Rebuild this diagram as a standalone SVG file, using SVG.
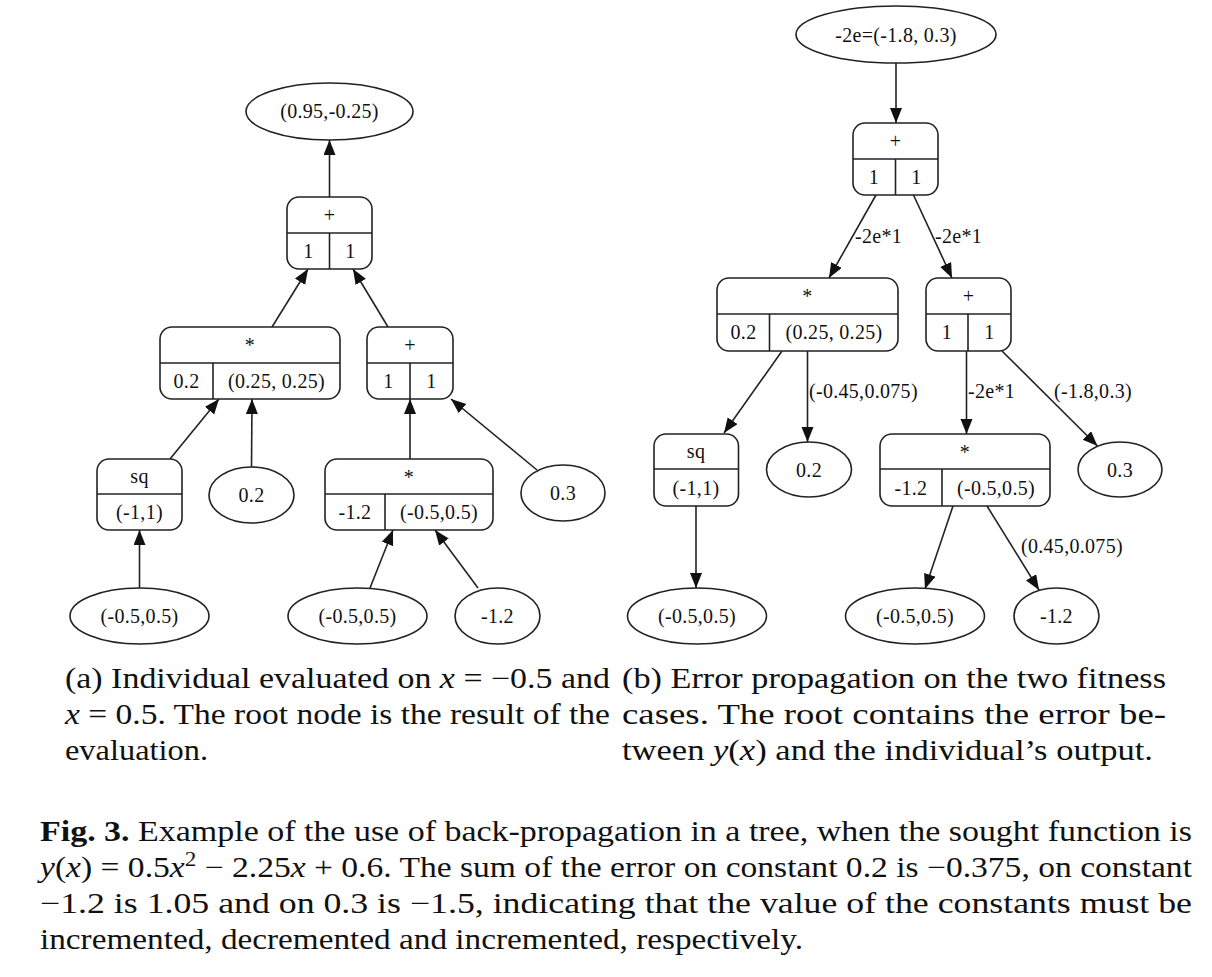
<svg xmlns="http://www.w3.org/2000/svg" width="1212" height="977" viewBox="0 0 1212 977">
<defs>
<marker id="ah" markerUnits="userSpaceOnUse" markerWidth="16" markerHeight="13" refX="15" refY="6" orient="auto">
<path d="M0,0 L15,6 L0,12 z" fill="#111"/>
</marker>
<style>
.n{fill:#fff;stroke:#222;stroke-width:1.6}
.d{stroke:#222;stroke-width:1.6;fill:none}
.t{font-family:"Liberation Serif","Times New Roman",serif;font-size:20px;letter-spacing:0.3px;fill:#111;text-anchor:middle}
.lb{font-family:"Liberation Serif","Times New Roman",serif;font-size:20px;letter-spacing:0.3px;fill:#111}
.e{stroke:#222;stroke-width:1.6;fill:none;marker-end:url(#ah)}
.c{font-family:"Liberation Serif","Times New Roman",serif;font-size:29px;fill:#111}
.i{font-style:italic}
.b{font-weight:bold}
</style>
</defs>
<rect width="1212" height="977" fill="#fff"/>

<g id="connectors">
<line class="e" x1="329.5" y1="197" x2="329.5" y2="140"/>
<line class="e" x1="272" y1="327" x2="308" y2="269"/>
<line class="e" x1="388" y1="327" x2="353" y2="269"/>
<line class="e" x1="170" y1="459" x2="219" y2="399"/>
<line class="e" x1="251.5" y1="467" x2="252" y2="399"/>
<line class="e" x1="410" y1="459" x2="410" y2="399"/>
<line class="e" x1="537" y1="470" x2="451" y2="399"/>
<line class="e" x1="139.5" y1="588" x2="139.5" y2="530"/>
<line class="e" x1="370" y1="588" x2="393" y2="530"/>
<line class="e" x1="478" y1="588" x2="435" y2="530"/>
<line class="e" x1="896" y1="63" x2="896" y2="123"/>
<line class="e" x1="876" y1="195" x2="829" y2="278"/>
<line class="e" x1="913.5" y1="195" x2="952" y2="278"/>
<line class="e" x1="782" y1="351" x2="724" y2="433"/>
<line class="e" x1="807.5" y1="351" x2="807.5" y2="442"/>
<line class="e" x1="966.5" y1="351" x2="966.5" y2="434"/>
<line class="e" x1="1002" y1="351" x2="1097.5" y2="446"/>
<line class="e" x1="696" y1="506" x2="696" y2="588"/>
<line class="e" x1="953" y1="506" x2="925" y2="589"/>
<line class="e" x1="987" y1="506" x2="1039" y2="590"/>
<text class="lb" x="855" y="243">-2e*1</text>
<text class="lb" x="935" y="243">-2e*1</text>
<text class="lb" x="809" y="398">(-0.45,0.075)</text>
<text class="lb" x="968" y="398">-2e*1</text>
<text class="lb" x="1054" y="398">(-1.8,0.3)</text>
<text class="lb" x="1021" y="553">(0.45,0.075)</text>
</g>

<g id="L_root"><ellipse class="n" cx="329.5" cy="111.5" rx="83.5" ry="28.5"/><text class="t" x="329.5" y="118">(0.95,-0.25)</text></g>
<g id="L_plus1"><rect class="n" x="287" y="197" width="85" height="72" rx="12"/><line class="d" x1="287" y1="233" x2="372" y2="233"/><line class="d" x1="329.5" y1="233" x2="329.5" y2="269"/><text class="t" x="329.5" y="221.5">+</text><text class="t" x="308.5" y="258">1</text><text class="t" x="350.5" y="258">1</text></g>
<g id="L_mul1"><rect class="n" x="160" y="327" width="180" height="72" rx="12"/><line class="d" x1="160" y1="363" x2="340" y2="363"/><line class="d" x1="213" y1="363" x2="213" y2="399"/><text class="t" x="250" y="352">*</text><text class="t" x="186.5" y="388">0.2</text><text class="t" x="276.5" y="388">(0.25, 0.25)</text></g>
<g id="L_plus2"><rect class="n" x="367" y="327" width="86" height="72" rx="12"/><line class="d" x1="367" y1="363" x2="453" y2="363"/><line class="d" x1="410" y1="363" x2="410" y2="399"/><text class="t" x="410" y="351.5">+</text><text class="t" x="388.5" y="388">1</text><text class="t" x="431.5" y="388">1</text></g>
<g id="L_sq"><rect class="n" x="97" y="459" width="85" height="71" rx="12"/><line class="d" x1="97" y1="494" x2="182" y2="494"/><text class="t" x="139.5" y="483">sq</text><text class="t" x="139.5" y="519">(-1,1)</text></g>
<g id="L_c02"><ellipse class="n" cx="251.5" cy="495" rx="42.5" ry="28"/><text class="t" x="251.5" y="502">0.2</text></g>
<g id="L_mul2"><rect class="n" x="325" y="459" width="168" height="71" rx="12"/><line class="d" x1="325" y1="494" x2="493" y2="494"/><line class="d" x1="385" y1="494" x2="385" y2="530"/><text class="t" x="409" y="484">*</text><text class="t" x="355" y="519">-1.2</text><text class="t" x="439" y="519">(-0.5,0.5)</text></g>
<g id="L_c03"><ellipse class="n" cx="563" cy="493" rx="42" ry="28"/><text class="t" x="563" y="500">0.3</text></g>
<g id="L_x1"><ellipse class="n" cx="139.5" cy="616" rx="69.5" ry="28"/><text class="t" x="139.5" y="623">(-0.5,0.5)</text></g>
<g id="L_x2"><ellipse class="n" cx="357.5" cy="616" rx="69.5" ry="28"/><text class="t" x="357.5" y="623">(-0.5,0.5)</text></g>
<g id="L_cm12"><ellipse class="n" cx="497.5" cy="616" rx="42.5" ry="28"/><text class="t" x="497.5" y="623">-1.2</text></g>

<g id="R_root"><ellipse class="n" cx="896" cy="34.5" rx="100" ry="28.5"/><text class="t" x="896" y="41.5">-2e=(-1.8, 0.3)</text></g>
<g id="R_plus1"><rect class="n" x="853" y="123" width="85" height="72" rx="12"/><line class="d" x1="853" y1="159" x2="938" y2="159"/><line class="d" x1="895.5" y1="159" x2="895.5" y2="195"/><text class="t" x="895.5" y="147.5">+</text><text class="t" x="874" y="184">1</text><text class="t" x="916.5" y="184">1</text></g>
<g id="R_mul1"><rect class="n" x="717" y="278" width="181" height="73" rx="12"/><line class="d" x1="717" y1="314" x2="898" y2="314"/><line class="d" x1="769.5" y1="314" x2="769.5" y2="351"/><text class="t" x="807.5" y="303">*</text><text class="t" x="743.5" y="339">0.2</text><text class="t" x="834" y="339">(0.25, 0.25)</text></g>
<g id="R_plus2"><rect class="n" x="926" y="278" width="85" height="73" rx="12"/><line class="d" x1="926" y1="314" x2="1011" y2="314"/><line class="d" x1="968" y1="314" x2="968" y2="351"/><text class="t" x="968.5" y="302.5">+</text><text class="t" x="947" y="339">1</text><text class="t" x="989.5" y="339">1</text></g>
<g id="R_sq"><rect class="n" x="654" y="434" width="84.5" height="72" rx="12"/><line class="d" x1="654" y1="469" x2="738.5" y2="469"/><text class="t" x="696" y="458">sq</text><text class="t" x="696" y="494.5">(-1,1)</text></g>
<g id="R_c02"><ellipse class="n" cx="809" cy="469.5" rx="42.5" ry="27.5"/><text class="t" x="809" y="476.5">0.2</text></g>
<g id="R_mul2"><rect class="n" x="880" y="434" width="170" height="72" rx="12"/><line class="d" x1="880" y1="469" x2="1050" y2="469"/><line class="d" x1="942" y1="469" x2="942" y2="506"/><text class="t" x="965" y="459">*</text><text class="t" x="911" y="494.5">-1.2</text><text class="t" x="996" y="494.5">(-0.5,0.5)</text></g>
<g id="R_c03"><ellipse class="n" cx="1120" cy="469.5" rx="42" ry="27.5"/><text class="t" x="1120" y="476.5">0.3</text></g>
<g id="R_x1"><ellipse class="n" cx="697" cy="616" rx="69.5" ry="28"/><text class="t" x="697" y="623">(-0.5,0.5)</text></g>
<g id="R_x2"><ellipse class="n" cx="915" cy="616" rx="69.5" ry="28"/><text class="t" x="915" y="623">(-0.5,0.5)</text></g>
<g id="R_cm12"><ellipse class="n" cx="1056.5" cy="616" rx="42.5" ry="28"/><text class="t" x="1056.5" y="623">-1.2</text></g>

<g id="captions">
<text class="c" x="65" y="688" textLength="545" lengthAdjust="spacingAndGlyphs">(a) Individual evaluated on <tspan class="i">x</tspan> = −0.5 and</text>
<text class="c" x="65" y="724" textLength="545" lengthAdjust="spacingAndGlyphs"><tspan class="i">x</tspan> = 0.5. The root node is the result of the</text>
<text class="c" x="65" y="760" textLength="143" lengthAdjust="spacingAndGlyphs">evaluation.</text>
<text class="c" x="622" y="688" textLength="544" lengthAdjust="spacingAndGlyphs">(b) Error propagation on the two fitness</text>
<text class="c" x="622" y="724" textLength="544" lengthAdjust="spacingAndGlyphs">cases.  The  root  contains  the  error  be-</text>
<text class="c" x="622" y="760" textLength="531" lengthAdjust="spacingAndGlyphs">tween <tspan class="i">y</tspan>(<tspan class="i">x</tspan>) and the individual’s output.</text>
<text class="c" x="40" y="841" textLength="1152" lengthAdjust="spacingAndGlyphs"><tspan class="b">Fig. 3.</tspan> Example of the use of back-propagation in a tree, when the sought function is</text>
<text class="c" x="40" y="877" textLength="1152" lengthAdjust="spacingAndGlyphs"><tspan class="i">y</tspan>(<tspan class="i">x</tspan>) = 0.5<tspan class="i">x</tspan><tspan dy="-11" font-size="20">2</tspan><tspan dy="11"> − 2.25</tspan><tspan class="i">x</tspan> + 0.6. The sum of the error on constant 0.2 is −0.375, on constant</text>
<text class="c" x="40" y="913" textLength="1152" lengthAdjust="spacingAndGlyphs">−1.2 is 1.05 and on 0.3 is −1.5, indicating that the value of the constants must be</text>
<text class="c" x="40" y="949" textLength="763" lengthAdjust="spacingAndGlyphs">incremented, decremented and incremented, respectively.</text>
</g>
</svg>
